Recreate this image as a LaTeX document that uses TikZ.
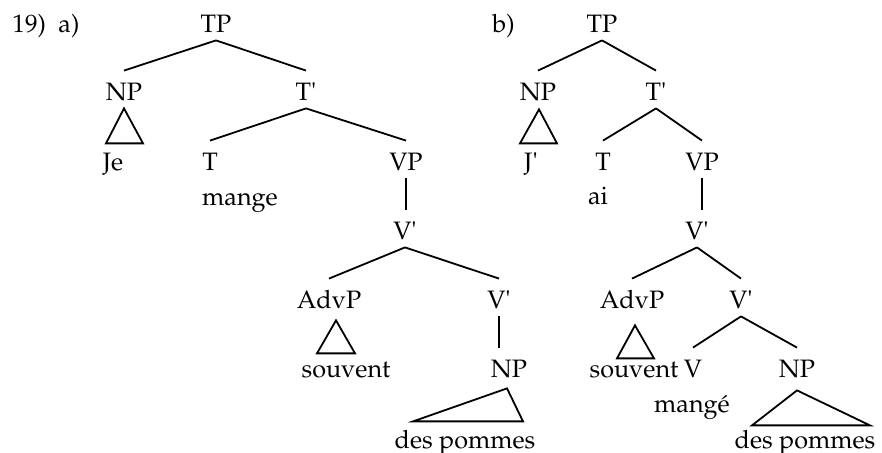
\documentclass[tikz,border=0pt]{standalone}
\usepackage[T1]{fontenc}
\usepackage{mathpazo}
\usepackage{tikz}
\usetikzlibrary{calc}
\tikzset{
  lbl/.style={anchor=base, inner sep=0pt, text height=15pt, text depth=3.5pt, font=\fontsize{12.6}{15}\selectfont},
  branch/.style={line width=0.9pt},
  roof/.style={line width=0.9pt, line join=miter}
}
\newcommand{\primemark}{\textquotesingle}

\begin{document}
\begin{tikzpicture}[x=0.5pt,y=-0.5pt]
  \useasboundingbox (0,0) rectangle (882,453);
  \node[lbl, anchor=base west] (exnum) at (12,33) {19)};
  \node[lbl, anchor=base west] (exa) at (58,33) {a)};
  \node[lbl, anchor=base west] (exb) at (492,33) {b)};

  % tree a
  \node[lbl] (tpa) at (216,33) {TP};
  \node[lbl] (npa) at (124,101) {NP};
  \node[lbl] (tbara) at (306,101) {T\primemark};
  \node[lbl] (jea) at (113,171) {Je};
  \node[lbl] (ta) at (210,171) {T};
  \node[lbl] (mangea) at (240,206) {mange};
  \node[lbl] (vpa) at (406,171) {VP};
  \node[lbl] (vbara) at (405,240) {V\primemark};
  \node[lbl] (advpa) at (329,309) {AdvP};
  \node[lbl] (vbarba) at (499,309) {V\primemark};
  \node[lbl] (souventa) at (346,378) {souvent};
  \node[lbl] (npobja) at (509,378) {NP};
  \node[lbl] (pommesa) at (465,448) {des pommes};

  \draw[branch] (tpa.south) -- (npa.north);
  \draw[branch] (tpa.south) -- (tbara.north);
  \draw[branch] (tbara.south) -- (ta.north);
  \draw[branch] (tbara.south) -- (vpa.north);
  \draw[branch] (vpa.south) -- (vpa.south |- vbara.north);
  \draw[branch] (vbara.south) -- (advpa.north);
  \draw[branch] (vbara.south) -- (vbarba.north);
  \draw[branch] (vbarba.south) -- (vbarba.south |- npobja.north);
  \draw[roof] (npa.south) -- ++(-18,35) -- ++(37,0) -- cycle;
  \draw[roof] ([shift={(7,4)}]advpa.south) -- ++(-19,33) -- ++(38,0) -- cycle;
  \draw[roof] ([shift={(-2,3)}]npobja.south) -- ++(-94,33) -- ++(110,0) -- cycle;

  % tree b
  \node[lbl] (tpb) at (602,33) {TP};
  \node[lbl] (npb) at (538,101) {NP};
  \node[lbl] (tbarb) at (656,101) {T\primemark};
  \node[lbl] (jeb) at (531,171) {J\primemark};
  \node[lbl] (tb) at (603,171) {T};
  \node[lbl] (aib) at (598,205) {ai};
  \node[lbl] (vpb) at (702,171) {VP};
  \node[lbl] (vbarb) at (697,240) {V\primemark};
  \node[lbl] (advpb) at (632,309) {AdvP};
  \node[lbl] (vbarbb) at (741,309) {V\primemark};
  \node[lbl] (souventb) at (634,378) {souvent};
  \node[lbl] (vb) at (693,378) {V};
  \node[lbl] (mangeb) at (692,413) {mang\'e};
  \node[lbl] (npobjb) at (797,378) {NP};
  \node[lbl] (pommesb) at (805,448) {des pommes};

  \draw[branch] (tpb.south) -- (npb.north);
  \draw[branch] (tpb.south) -- (tbarb.north);
  \draw[branch] (tbarb.south) -- (tb.north);
  \draw[branch] (tbarb.south) -- (vpb.north);
  \draw[branch] (vpb.south) -- (vpb.south |- vbarb.north);
  \draw[branch] (vbarb.south) -- (advpb.north);
  \draw[branch] (vbarb.south) -- (vbarbb.north);
  \draw[branch] (vbarbb.south) -- (vb.north);
  \draw[branch] (vbarbb.south) -- (npobjb.north);
  \draw[roof] ([shift={(1,1)}]npb.south) -- ++(-19,34) -- ++(37,0) -- cycle;
  \draw[roof] ([shift={(3,9)}]advpb.south) -- ++(-18,33) -- ++(37,0) -- cycle;
  \draw[roof] ([shift={(0,5)}]npobjb.south) -- ++(-45,35) -- ++(118,0) -- cycle;
\end{tikzpicture}
\end{document}
